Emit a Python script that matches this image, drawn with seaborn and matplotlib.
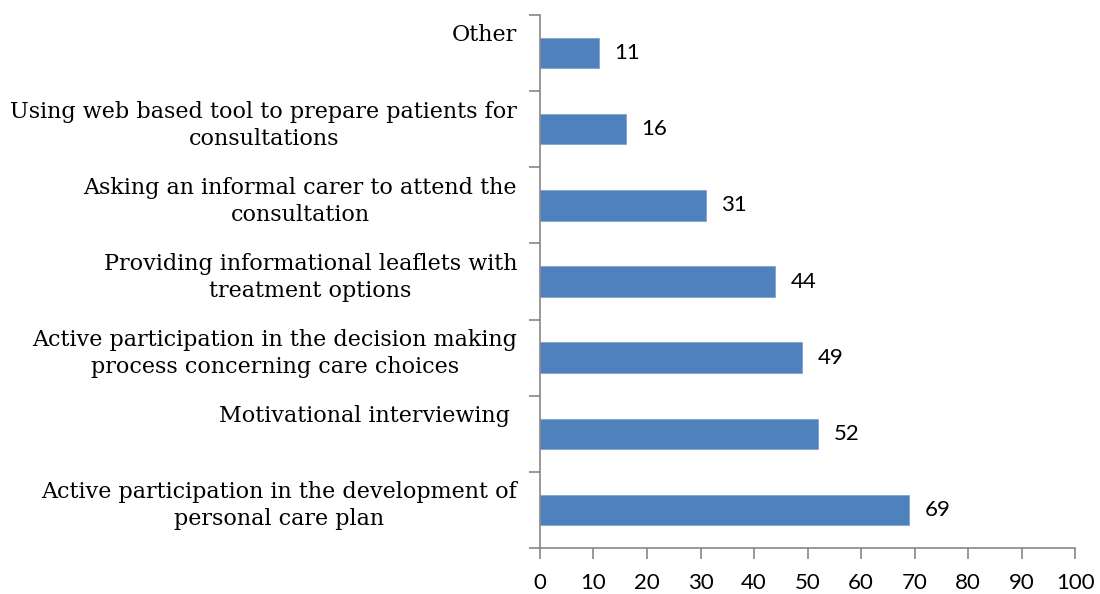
import numpy as np
import pandas as pd
import matplotlib
matplotlib.use("Agg")
import matplotlib.pyplot as plt
import seaborn as sns

categories = [
    "Other\n",
    "Using web based tool to prepare patients for\nconsultations",
    "Asking an informal carer to attend the\nconsultation",
    "Providing informational leaflets with\ntreatment options",
    "Active participation in the decision making\nprocess concerning care choices",
    "Motivational interviewing \n",
    "Active participation in the development of\npersonal care plan",
]
values = [11, 16, 31, 44, 49, 52, 69]
x_ticks = list(range(0, 101, 10))

df = pd.DataFrame({"label": categories, "value": values})

sns.set_style("white")
axis_grey = "#868686"

fig, ax = plt.subplots(figsize=(11, 5.94), dpi=100)
fig.subplots_adjust(left=0.4909, right=0.9773, top=0.9747, bottom=0.0774)

sns.barplot(data=df, x="value", y="label", orient="h", color="#4F81BD",
            width=0.4, saturation=1, edgecolor="#7FA3D3", linewidth=0.6, ax=ax)

ax.bar_label(ax.containers[0], padding=11, fontsize=16, family="Lato", color="black")

ax.set_xlim(0, 100)
ax.set_xticks(x_ticks)
ax.set_xticklabels([str(t) for t in x_ticks], fontsize=16, family="Lato", color="black")
ax.set_ylim(len(categories) - 0.5, -0.5)
# labels sit a little above the bar centre, like the original
ax.set_yticks(np.arange(len(categories)) - 0.12)
ax.set_yticklabels(categories, fontsize=16, family="DejaVu Serif", color="black",
                   ha="right", linespacing=1.3)
for lbl in ax.get_yticklabels():
    lbl.set_multialignment("center")
ax.set_yticks(np.arange(-0.5, len(categories), 1), minor=True)
ax.set_xlabel("")
ax.set_ylabel("")

ax.tick_params(left=True, bottom=True, which="both")
ax.tick_params(axis="y", which="major", length=0, pad=16.5)
ax.tick_params(axis="y", which="minor", length=8, width=1.2, color=axis_grey, direction="out")
ax.tick_params(axis="x", which="major", length=8, width=1.2, color=axis_grey, direction="out", pad=10)

for s in ["top", "right"]:
    ax.spines[s].set_visible(False)
for s in ["left", "bottom"]:
    ax.spines[s].set_color(axis_grey)
    ax.spines[s].set_linewidth(1.2)

fig.savefig("out.png", dpi=100)
